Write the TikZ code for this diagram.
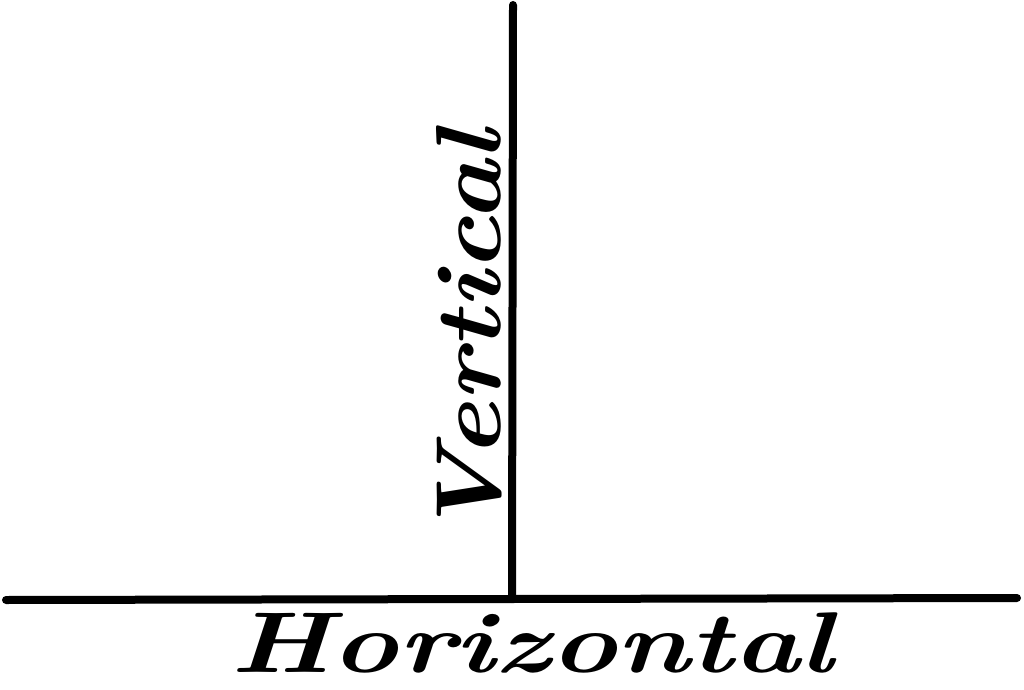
\documentclass[tikz,border=0pt]{standalone}
\tikzset{
  rule/.style={line width=8pt, line cap=round},
  lbl/.style={inner sep=0pt, font=\fontsize{88}{90}\selectfont\bfseries\itshape}
}
\begin{document}
\begin{tikzpicture}[x=1pt,y=1pt]
\useasboundingbox (0,0) rectangle (1024,689);
\coordinate (hl) at (6,89);
\coordinate (hr) at (1017,91);
\coordinate (vt) at (513,684);
\coordinate (vb) at (512,90);
\draw[rule] (hl) -- (hr);
\draw[rule] (vb) -- (vt);
\node[lbl, anchor=base] (horiz) at (532,17) {\scalebox{1.28}[0.98]{Horizontal}};
\node[lbl, rotate=90, anchor=base] (vert) at (500,354) {\scalebox{1.19}[1.05]{Vertical}};
\end{tikzpicture}
\end{document}
